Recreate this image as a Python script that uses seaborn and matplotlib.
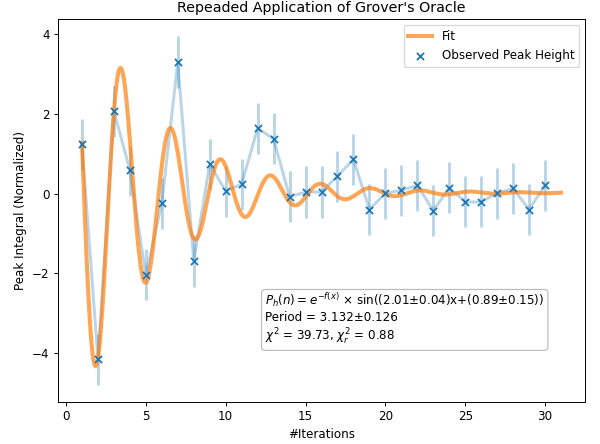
import numpy as np
import pandas as pd
import seaborn as sns
import matplotlib
matplotlib.use("Agg")
import matplotlib.pyplot as plt

iterations = list(range(1, 31))
peak_height = [1.24, -4.15, 2.07, 0.59, -2.04, -0.24, 3.30, -1.69, 0.74, 0.06,
               0.24, 1.64, 1.37, -0.08, 0.04, 0.04, 0.44, 0.86, -0.40, 0.01,
               0.08, 0.21, -0.43, 0.15, -0.21, -0.21, 0.01, 0.13, -0.40, 0.21]
peak_error = [0.64] * 30

# Fit parameters (damped sine shown in the annotation)
fit_amp = 6.45
fit_decay = 0.21
fit_omega = 2.01
fit_phase = 0.89
fit_offset = 0.02
fit_range = (1, 31)

x_fit = np.linspace(fit_range[0], fit_range[1], 600)
y_fit = fit_amp * np.exp(-fit_decay * x_fit) * np.sin(fit_omega * x_fit + fit_phase) + fit_offset

obs = pd.DataFrame({"n": iterations, "h": peak_height, "e": peak_error})
fit = pd.DataFrame({"n": x_fit, "h": y_fit})

DPI = 600 / 7
fig, ax = plt.subplots(figsize=(7, 444 / DPI), dpi=DPI)
fig.subplots_adjust(left=0.0967, right=0.975, bottom=0.0946, top=0.957)

ax.errorbar(obs["n"], obs["h"], yerr=obs["e"], color="tab:blue", alpha=0.3,
            lw=2.5, elinewidth=2.5, zorder=1)
sns.lineplot(data=fit, x="n", y="h", ax=ax, color="tab:orange", alpha=0.7,
             lw=3.4, label="Fit", zorder=2)
sns.scatterplot(data=obs, x="n", y="h", ax=ax, marker="x", color="tab:blue",
                s=36, linewidth=1.5, label="Observed Peak Height", zorder=3)

ax.set_title("Repeaded Application of Grover's Oracle")
ax.set_xlabel("#Iterations")
ax.set_ylabel("Peak Integral (Normalized)")
ax.legend(loc="upper right")

txt = ("$P_h(n) = e^{-f(x)}$ × sin((2.01±0.04)x+(0.89±0.15))\n"
       "Period = 3.132±0.126\n"
       "$\\chi^2$ = 39.73, $\\chi_r^2$ = 0.88")
ax.text(0.393, 0.29, txt, transform=ax.transAxes, va="top", ha="left",
        fontsize=10,
        bbox=dict(boxstyle="round,pad=0.3", facecolor="white", edgecolor="#bbbbbb"))

fig.savefig("out.png", dpi=DPI)
